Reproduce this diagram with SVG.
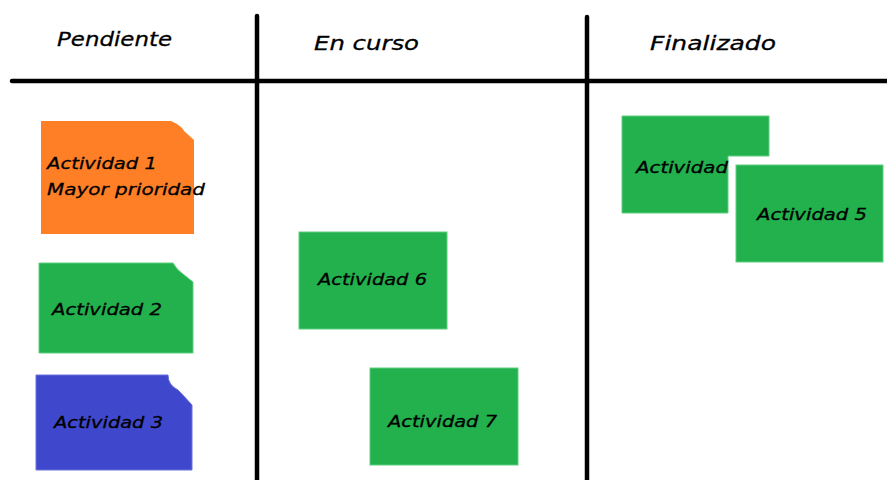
<svg xmlns="http://www.w3.org/2000/svg" width="887" height="480" viewBox="0 0 887 480">
  <style>
    .grid { stroke: #000; stroke-width: 4.5; stroke-linecap: round; fill: none; }
    .head { font-family: "DejaVu Sans", "Liberation Sans", sans-serif; font-style: italic; font-size: 20px; fill: #000; stroke: #000; stroke-width: 0.3; }
    .lbl { font-family: "DejaVu Sans", "Liberation Sans", sans-serif; font-style: italic; font-size: 16px; fill: #000; stroke: #000; stroke-width: 0.3; }
    .green { fill: #22b14c; stroke: #5fcf80; stroke-width: 1; }
    .orange { fill: #ff7f27; }
    .blue { fill: #3f48cc; stroke: #6a72dc; stroke-width: 1; }
  </style>

  <rect width="887" height="480" fill="#fff"/>

  <!-- board grid -->
  <g id="connectors">
    <line class="grid" x1="12" y1="81" x2="887" y2="81"/>
    <line class="grid" x1="257" y1="16" x2="257" y2="480"/>
    <line class="grid" x1="587" y1="17" x2="587" y2="480"/>
  </g>

  <!-- column headers -->
  <g id="col-pendiente"><text class="head" x="57" y="46" textLength="115" lengthAdjust="spacingAndGlyphs">Pendiente</text></g>
  <g id="col-en-curso"><text class="head" x="314" y="50" textLength="105" lengthAdjust="spacingAndGlyphs">En curso</text></g>
  <g id="col-finalizado"><text class="head" x="650" y="50" textLength="126" lengthAdjust="spacingAndGlyphs">Finalizado</text></g>

  <!-- Pendiente cards -->
  <g id="act1">
    <path class="orange" d="M41,121 H171 Q182,126 184,131 L194,140 V234 H41 Z"/>
    <text class="lbl" x="47" y="169" textLength="110" lengthAdjust="spacingAndGlyphs">Actividad 1</text>
    <text class="lbl" x="47" y="195" textLength="158" lengthAdjust="spacingAndGlyphs">Mayor prioridad</text>
  </g>
  <g id="act2">
    <path class="green" d="M39,263 H173 Q177,270 183,274 L193,282 V353 H39 Z"/>
    <text class="lbl" x="52" y="315" textLength="110" lengthAdjust="spacingAndGlyphs">Actividad 2</text>
  </g>
  <g id="act3">
    <path class="blue" d="M36,375 H168 Q168,385 178,390 Q184,396 192,405 V470 H36 Z"/>
    <text class="lbl" x="54" y="428" textLength="109" lengthAdjust="spacingAndGlyphs">Actividad 3</text>
  </g>

  <!-- En curso cards -->
  <g id="act6">
    <rect class="green" x="299" y="232" width="148" height="97"/>
    <text class="lbl" x="318" y="285" textLength="109" lengthAdjust="spacingAndGlyphs">Actividad 6</text>
  </g>
  <g id="act7">
    <rect class="green" x="370" y="368" width="148" height="97"/>
    <text class="lbl" x="388" y="427" textLength="109" lengthAdjust="spacingAndGlyphs">Actividad 7</text>
  </g>

  <!-- Finalizado cards -->
  <g id="act4">
    <path class="green" d="M622,116 H769 V156 H728 V213 H622 Z"/>
    <text class="lbl" x="636" y="173" textLength="92" lengthAdjust="spacingAndGlyphs">Actividad</text>
  </g>
  <g id="act5">
    <rect class="green" x="736" y="165" width="147" height="97"/>
    <text class="lbl" x="757" y="220" textLength="110" lengthAdjust="spacingAndGlyphs">Actividad 5</text>
  </g>
</svg>
